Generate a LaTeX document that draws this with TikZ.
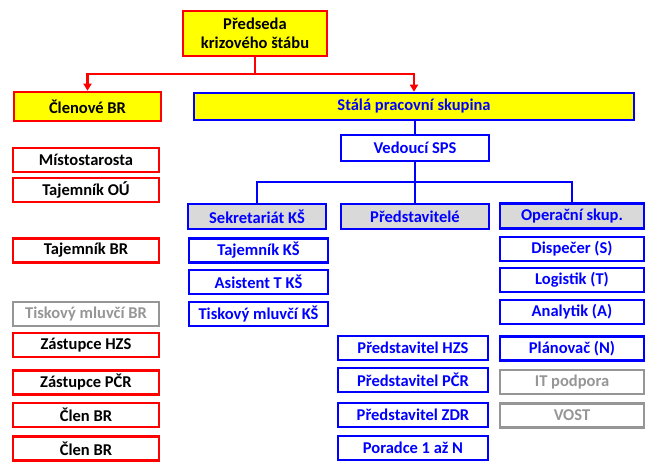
\documentclass[tikz,border=0pt]{standalone}
\usepackage{fontspec}
\setmainfont{Carlito}
\usetikzlibrary{arrows.meta}
\definecolor{rd}{RGB}{255,0,0}
\definecolor{bl}{RGB}{0,0,255}
\definecolor{yl}{RGB}{255,255,0}
\definecolor{gf}{RGB}{217,217,217}
\definecolor{gt}{RGB}{150,150,150}
\begin{document}
\begin{tikzpicture}[x=1pt,y=-1pt,
  box/.style={draw, line width=2.6pt, inner sep=0pt, align=center,
    font=\fontsize{16.5}{18.5}\selectfont\bfseries, minimum height=24pt},
  redbox/.style={box, draw=rd, fill=white, text=black},
  yredbox/.style={redbox, fill=yl},
  bluebox/.style={box, draw=bl, fill=white, text=bl},
  ybluebox/.style={bluebox, fill=yl},
  headbox/.style={bluebox, fill=gf},
  graybox/.style={box, draw=gt, fill=white, text=gt},
  redline/.style={draw=rd, line width=2.2pt},
  blueline/.style={draw=bl, line width=2.2pt},
  tip/.style={-{Triangle[length=7pt,width=8pt]}}]
\useasboundingbox (0,0) rectangle (646,462);

% top level
\node[yredbox, minimum width=144pt, minimum height=45pt] (pred) at (255,33.5) {Předseda\\krizového štábu};
\node[yredbox, minimum width=147pt, minimum height=29pt] (clen) at (87.5,106.5) {Členové BR};
\node[ybluebox, minimum width=440pt, minimum height=27pt] (spk) at (414,106.5) {Stálá pracovní skupina};
\node[bluebox, minimum width=148pt, minimum height=26pt] (ved) at (415,148) {Vedoucí SPS};

% group headers
\node[headbox, minimum width=138pt, minimum height=25pt] (sek) at (257,216.5) {Sekretariát KŠ};
\node[headbox, minimum width=148pt, minimum height=25pt] (prd) at (415,216.5) {Představitelé};
\node[headbox, minimum width=144pt, minimum height=25pt] (ops) at (572,216) {Operační skup.};

% members of the council
\begin{scope}[every node/.append style={minimum width=146pt}]
\node[redbox] (l1) at (86,160) {Místostarosta};
\node[redbox] (l2) at (86,190) {Tajemník OÚ};
\node[redbox] (l3) at (86,250.5) {Tajemník BR};
\node[graybox] (l4) at (86,314) {Tiskový mluvčí BR};
\node[redbox] (l5) at (86,345) {Zástupce HZS};
\node[redbox] (l6) at (86,382.5) {Zástupce PČR};
\node[redbox] (l7) at (86,415) {Člen BR};
\node[redbox] (l8) at (86,448.5) {Člen BR};
\end{scope}

% secretariat
\begin{scope}[every node/.append style={minimum width=139pt}]
\node[bluebox] (s1) at (258.5,250.5) {Tajemník KŠ};
\node[bluebox] (s2) at (258.5,282) {Asistent T KŠ};
\node[bluebox] (s3) at (258.5,314) {Tiskový mluvčí KŠ};
\end{scope}

% representatives
\begin{scope}[every node/.append style={minimum width=150pt}]
\node[bluebox] (p1) at (413,348) {Představitel HZS};
\node[bluebox] (p2) at (413,380) {Představitel PČR};
\node[bluebox] (p3) at (413,415) {Představitel ZDR};
\node[bluebox] (p4) at (413,448) {Poradce 1 až N};
\end{scope}

% operational group
\begin{scope}[every node/.append style={minimum width=144pt}]
\node[bluebox] (o1) at (572,249) {Dispečer (S)};
\node[bluebox] (o2) at (572,280) {Logistik (T)};
\node[bluebox] (o3) at (572,312) {Analytik (A)};
\node[bluebox] (o4) at (572,348.5) {Plánovač (N)};
\node[graybox] (o5) at (572,382) {IT podpora};
\node[graybox] (o6) at (572,415.5) {VOST};
\end{scope}

% connectors
\coordinate (rj) at (255,74);
\draw[redline] (pred.south) -- (rj);
\draw[redline, tip] (rj) -| (clen.north);
\draw[redline, tip] (rj) -| (spk.north);

\draw[blueline] (ved.north |- spk.south) -- (ved.north);
\coordinate (bj) at (415,182);
\draw[blueline] (ved.south) -- (bj);
\draw[blueline] (bj) -| (sek.north);
\draw[blueline] (bj) -| (ops.north);
\draw[blueline] (bj) -- (prd.north);
\end{tikzpicture}
\end{document}
